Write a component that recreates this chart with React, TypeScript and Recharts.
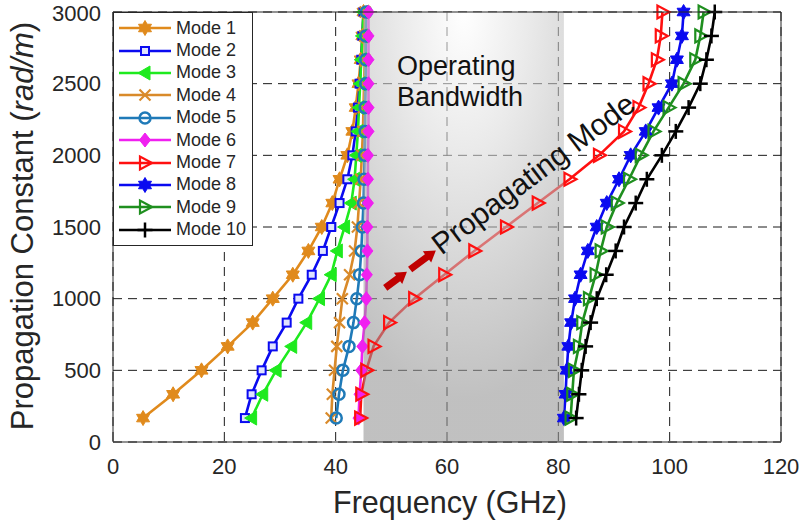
import React from "react"
import {
  LineChart,
  Line,
  XAxis,
  YAxis,
  CartesianGrid,
  ReferenceArea,
  ReferenceDot,
  Legend,
  Label,
} from "recharts"

// propagation constant samples (rad/m), shared by every mode
const betas = [167, 333, 500, 667, 833, 1000, 1167, 1333, 1500, 1667, 1833, 2000, 2167, 2333, 2500, 2667, 2833, 3000]

// frequency (GHz) of each mode at the betas above
const mode1 = [5.4, 10.8, 15.9, 20.6, 25.1, 28.7, 32.3, 35.1, 37.5, 39.4, 40.7, 42.1, 43.0, 43.6, 44.1, 44.5, 44.8, 45.0]
const mode2 = [23.7, 24.9, 26.7, 28.7, 31.2, 33.3, 35.7, 37.7, 39.2, 40.7, 42.1, 43.0, 43.6, 44.0, 44.3, 44.6, 44.8, 45.0]
const mode3 = [24.9, 26.9, 29.3, 32.1, 34.8, 37.1, 39.2, 40.3, 41.6, 42.8, 43.4, 43.7, 44.0, 44.2, 44.4, 44.6, 44.8, 45.0]
const mode4 = [39.2, 39.4, 39.8, 40.2, 40.7, 41.2, 42.5, 43.4, 43.9, 44.2, 44.5, 44.7, 44.9, 45.0, 45.1, 45.2, 45.2, 45.3]
const mode5 = [40.1, 40.6, 41.3, 42.4, 43.2, 43.8, 44.3, 44.6, 44.8, 45.0, 45.1, 45.2, 45.3, 45.3, 45.4, 45.4, 45.4, 45.5]
const mode6 = [44.1, 44.3, 44.6, 44.8, 45.2, 45.5, 45.6, 45.7, 45.7, 45.8, 45.8, 45.8, 45.9, 45.9, 45.9, 45.9, 45.9, 45.9]
const mode7 = [44.4, 44.6, 45.5, 46.8, 49.6, 54.1, 59.5, 64.9, 70.6, 76.3, 82.0, 87.3, 91.8, 94.4, 96.2, 97.7, 98.4, 98.7]
const mode8 = [81.0, 81.3, 81.5, 81.8, 82.3, 83.0, 84.0, 85.3, 86.9, 88.7, 90.9, 93.0, 95.7, 98.0, 100.4, 101.3, 102.2, 102.5]
const mode9 = [82.2, 82.5, 82.8, 83.7, 84.3, 85.5, 86.7, 87.6, 88.7, 90.5, 92.7, 94.8, 97.1, 99.8, 102.5, 104.6, 105.5, 106.1]
const mode10 = [83.2, 83.7, 84.2, 84.9, 85.8, 86.9, 88.6, 90.3, 91.8, 93.9, 95.9, 98.6, 101.1, 103.4, 105.5, 106.6, 107.5, 108.1]

const modeNames = ["Mode 1", "Mode 2", "Mode 3", "Mode 4", "Mode 5", "Mode 6", "Mode 7", "Mode 8", "Mode 9", "Mode 10"]
const xTicks = [0, 20, 40, 60, 80, 100, 120]
const yTicks = [0, 500, 1000, 1500, 2000, 2500, 3000]
const band = [45, 81]

const FONT = "'Liberation Sans', Arial, sans-serif"
const INK = "#262626"

type Kind = "hexagram" | "square" | "triLeft" | "cross" | "circle" | "diamond" | "triRight" | "plus"

const series: { name: string; freqs: number[]; color: string; kind: Kind }[] = [
  { name: modeNames[0], freqs: mode1, color: "#E08A1C", kind: "hexagram" },
  { name: modeNames[1], freqs: mode2, color: "#0A0AF0", kind: "square" },
  { name: modeNames[2], freqs: mode3, color: "#1EEA1E", kind: "triLeft" },
  { name: modeNames[3], freqs: mode4, color: "#D98A2A", kind: "cross" },
  { name: modeNames[4], freqs: mode5, color: "#1F7AB8", kind: "circle" },
  { name: modeNames[5], freqs: mode6, color: "#F020F0", kind: "diamond" },
  { name: modeNames[6], freqs: mode7, color: "#FF1010", kind: "triRight" },
  { name: modeNames[7], freqs: mode8, color: "#0A0AF0", kind: "hexagram" },
  { name: modeNames[8], freqs: mode9, color: "#1F8F1F", kind: "triRight" },
  { name: modeNames[9], freqs: mode10, color: "#000000", kind: "plus" },
]

function hexPoints(cx: number, cy: number, r: number) {
  const pts: string[] = []
  for (let i = 0; i < 12; i++) {
    const rad = i % 2 === 0 ? r : r * 0.58
    const a = (Math.PI / 6) * i - Math.PI / 2
    pts.push(`${cx + rad * Math.cos(a)},${cy + rad * Math.sin(a)}`)
  }
  return pts.join(" ")
}

function Marker({ kind, cx, cy, color }: { kind: Kind; cx: number; cy: number; color: string }) {
  switch (kind) {
    case "hexagram":
      return <polygon points={hexPoints(cx, cy, 7.5)} fill={color} stroke={color} strokeWidth={1} />
    case "square":
      return <rect x={cx - 4} y={cy - 4} width={8} height={8} fill="#dfe3ff" stroke={color} strokeWidth={2} />
    case "triLeft":
      return <polygon points={`${cx - 7},${cy} ${cx + 5},${cy - 7} ${cx + 5},${cy + 7}`} fill={color} stroke={color} strokeWidth={1} />
    case "triRight":
      return <polygon points={`${cx + 7},${cy} ${cx - 5},${cy - 6.5} ${cx - 5},${cy + 6.5}`} fill="none" stroke={color} strokeWidth={2.2} />
    case "cross":
      return (
        <g stroke={color} strokeWidth={2.2}>
          <line x1={cx - 5.5} y1={cy - 5.5} x2={cx + 5.5} y2={cy + 5.5} />
          <line x1={cx - 5.5} y1={cy + 5.5} x2={cx + 5.5} y2={cy - 5.5} />
        </g>
      )
    case "circle":
      return <circle cx={cx} cy={cy} r={5.5} fill="none" stroke={color} strokeWidth={2.5} />
    case "diamond":
      return <polygon points={`${cx},${cy - 7} ${cx + 5.5},${cy} ${cx},${cy + 7} ${cx - 5.5},${cy}`} fill={color} stroke={color} strokeWidth={1} />
    case "plus":
      return (
        <g stroke={color} strokeWidth={2.5}>
          <line x1={cx - 7.5} y1={cy} x2={cx + 7.5} y2={cy} />
          <line x1={cx} y1={cy - 7.5} x2={cx} y2={cy + 7.5} />
        </g>
      )
  }
  return null
}

function LegendBox() {
  return (
    <div
      style={{
        background: "#fff",
        border: `1px solid ${INK}`,
        padding: "4px 6px 4px 4px",
        fontFamily: FONT,
        fontSize: 18,
        color: INK,
      }}
    >
      {series.map((s) => (
        <div key={s.name} style={{ display: "flex", alignItems: "center", height: 22.4 }}>
          <svg width={54} height={20} style={{ marginRight: 4 }}>
            <line x1={1} y1={10} x2={53} y2={10} stroke={s.color} strokeWidth={2.5} />
            <Marker kind={s.kind} cx={27} cy={10} color={s.color} />
          </svg>
          <span>{s.name}</span>
        </div>
      ))}
    </div>
  )
}

export default function App() {
  return (
    <div style={{ position: "absolute", left: 0, top: 0, background: "#fff" }}>
      <LineChart width={803} height={525} margin={{ top: 12, right: 22, bottom: 23, left: 20 }}>
        <defs>
          <radialGradient id="bandFill" cx="0.5" cy="0" r="0.9">
            <stop offset="0%" stopColor="#ffffff" />
            <stop offset="35%" stopColor="#dcdcdc" />
            <stop offset="100%" stopColor="#939393" />
          </radialGradient>
        </defs>
        <CartesianGrid stroke="#1a1a1a" strokeDasharray="9 6" strokeWidth={1} />
        <XAxis
          dataKey="f"
          type="number"
          domain={[0, 120]}
          ticks={xTicks}
          allowDataOverflow
          axisLine={false}
          tickLine={false}
          tickMargin={10}
          height={60}
          tick={{ fontSize: 22, fill: INK, fontFamily: FONT }}
        >
          <Label
            content={({ viewBox }: any) => (
              <text
                x={viewBox.x + viewBox.width / 2 + 3}
                y={viewBox.y + 71}
                textAnchor="middle"
                fontSize={30.5}
                fontFamily={FONT}
                fill={INK}
              >
                Frequency (GHz)
              </text>
            )}
          />
        </XAxis>
        <YAxis
          type="number"
          domain={[0, 3000]}
          ticks={yTicks}
          axisLine={false}
          tickLine={false}
          tickMargin={6}
          width={93}
          tick={{ fontSize: 22, fill: INK, fontFamily: FONT }}
        >
          <Label
            content={({ viewBox }: any) => {
              const x = viewBox.x + 13
              const y = viewBox.y + viewBox.height / 2 - 1
              return (
                <text
                  x={x}
                  y={y}
                  transform={`rotate(-90 ${x} ${y})`}
                  textAnchor="middle"
                  fontSize={31}
                  fontFamily={FONT}
                  fill={INK}
                >
                  Propagation Constant (<tspan fontStyle="italic">rad/m</tspan>)
                </text>
              )
            }}
          />
        </YAxis>
        {series.map((s) => (
          <Line
            key={s.name}
            name={s.name}
            data={s.freqs.map((f, i) => ({ f, b: betas[i] }))}
            dataKey="b"
            stroke={s.color}
            strokeWidth={2.6}
            isAnimationActive={false}
            dot={(p: any) => <Marker key={`${s.name}-${p.index}`} kind={s.kind} cx={p.cx} cy={p.cy} color={s.color} />}
            activeDot={false}
          />
        ))}
        <ReferenceArea
          x1={band[0]}
          x2={band[1]}
          y1={0}
          y2={3000}
          fill="url(#bandFill)"
          fillOpacity={0.58}
          stroke="none"
          zIndex={450}
        />
        <ReferenceDot
          x={51}
          y={2560}
          r={0}
          zIndex={2100}
          shape={(p: any) => (
            <text x={p.cx} y={p.cy} fontSize={27} fontFamily={FONT} fill="#111">
              <tspan x={p.cx}>Operating</tspan>
              <tspan x={p.cx} dy={31}>Bandwidth</tspan>
            </text>
          )}
        />
        <ReferenceDot
          x={48.9}
          y={1075}
          r={0}
          zIndex={2100}
          shape={(p: any) => (
            <g transform={`translate(${p.cx} ${p.cy}) rotate(-36.5)`} fill="#C00000">
              <polygon points="0,-3.5 16,-3.5 16,-7 27,0 16,7 16,3.5 0,3.5" />
              <polygon points="31,-3.5 52,-3.5 52,-7 63,0 52,7 52,3.5 31,3.5" />
            </g>
          )}
        />
        <ReferenceDot
          x={59.0}
          y={1300}
          r={0}
          zIndex={2100}
          shape={(p: any) => (
            <text
              x={p.cx}
              y={p.cy}
              transform={`rotate(-37 ${p.cx} ${p.cy})`}
              fontSize={30}
              fontFamily={FONT}
              fill="#111"
            >
              Propagating Mode
            </text>
          )}
        />
        <ReferenceArea x1={0} x2={120} y1={0} y2={3000} fill="none" stroke={INK} strokeWidth={1} zIndex={2200} />
        <Legend
          layout="vertical"
          align="center"
          verticalAlign="middle"
          wrapperStyle={{ left: 113, top: 12, width: "auto" }}
          content={() => <LegendBox />}
        />
      </LineChart>
    </div>
  )
}
